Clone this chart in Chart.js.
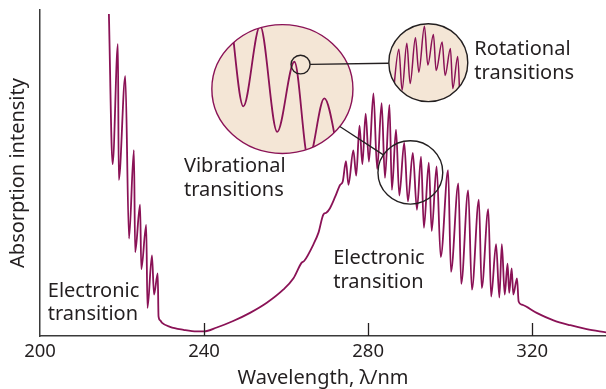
<!DOCTYPE html>
<html>
<head>
<meta charset="utf-8">
<script src="https://cdn.jsdelivr.net/npm/chart.js@4.4.1/dist/chart.umd.min.js"></script>
<style>
  html, body { margin: 0; padding: 0; background: #fff; }
  #wrap { width: 606px; height: 389px; }
</style>
</head>
<body>
<div id="wrap"><canvas id="spectrum"></canvas></div>
<script>
// spectrum: wavelength (nm) and relative absorption (0-100)
const leftBandNm  = [216.8, 217.7, 219.0, 219.2, 220.8, 221.7, 222.9, 223.2, 224.4, 224.7, 225.9, 226.2, 227.3, 227.8, 228.7, 228.9, 229.3];
const leftBandAbs = [98.8, 52.7, 89.5, 47.9, 79.7, 29.9, 57.0, 25.7, 40.3, 20.5, 34.1, 8.6, 24.7, 12.7, 19.2, 6.0, 4.8];

const valleyNm  = [229.7, 231.7, 235.0, 238.2, 240.0, 243.1, 247.1, 251.2, 255.3, 259.3, 261.8, 263.8, 264.4, 266.7, 267.9, 269.1, 269.8, 270.7, 272.0, 273.2, 273.8];
const valleyAbs = [4.1, 2.8, 1.9, 1.4, 1.4, 2.6, 4.6, 7.1, 10.2, 14.2, 17.7, 22.5, 23.0, 28.2, 31.7, 37.3, 37.8, 39.2, 42.8, 46.4, 47.3];

const mainBandNm  = [274.6, 275.2, 276.4, 277.1, 277.9, 278.6, 279.4, 280.2, 281.3, 282.2, 283.3, 284.1,
                     285.2, 285.8, 286.8, 287.6, 288.8, 289.7, 290.9, 291.9, 292.9, 293.6, 294.8, 295.5,
                     296.7, 297.7, 299.5, 300.2, 302.0, 302.7, 304.4, 305.3, 307.0, 307.7, 309.3, 310.0,
                     311.2, 312.0, 312.6, 313.3, 314.0, 314.4, 315.0, 315.4, 316.3, 316.7, 317.5];
const mainBandAbs = [53.6, 46.4, 56.9, 49.2, 64.5, 52.7, 68.2, 53.5, 74.4, 51.2, 71.4, 48.5,
                     70.9, 44.8, 63.3, 43.1, 59.3, 41.3, 56.2, 38.7, 55.0, 33.2, 53.2, 32.2,
                     52.0, 24.2, 50.9, 19.7, 46.8, 16.0, 44.7, 14.2, 41.8, 14.7, 38.9, 12.1,
                     28.2, 11.8, 28.2, 12.7, 22.2, 13.2, 20.7, 12.7, 17.7, 10.6, 9.6];

const tailNm  = [321.1, 325.2, 329.3, 333.3, 338.0];
const tailAbs = [7.1, 4.8, 3.3, 2.1, 1.1];

// magnified views, in units of 0-100 across each lens
const vibInsetX = [13, 22.3, 34.2, 46.3, 58.5, 68.5, 79.7, 91];
const vibInsetY = [110, 36.6, 99, 16.8, 71.2, -5, 42.7, -8];
const rotInsetX = [4.2, 12.7, 16.8, 22.8, 27.0, 33.7, 38.0, 45.1, 49.4, 56.5, 59.9, 67.5, 71.3, 78.0, 81.0, 87.3, 90.3];
const rotInsetY = [-6, 67.2, 14.6, 74.8, 23.1, 82.0, 37.8, 96.6, 47.0, 86.1, 39.8, 76.4, 33.5, 68.1, 16.8, 58.0, -6];

const tickValues = [200, 240, 280, 320];

const X_MIN = 200, X_MAX = 338, Y_MIN = 0, Y_MAX = 100;
const lineColor = '#8a1256';
const inkColor = '#231f20';
const axisColor = '#3a3a3a';
const beige = '#f4e6d6';
const font = 'Noto Sans';

// lens outlines given as boxes in data units
const lenses = {
  vib:  { xMin: 241.9, xMax: 276.3, yMin: 56.0, yMax: 95.5, fill: beige, stroke: lineColor },
  rot:  { xMin: 285.05, xMax: 304.3, yMin: 71.9, yMax: 95.8, fill: beige, stroke: inkColor },
  band: { xMin: 282.4, xMax: 298.2, yMin: 40.45, yMax: 59.9, fill: null, stroke: inkColor },
  spot: { xMin: 261.2, xMax: 265.85, yMin: 80.4, yMax: 86.1, fill: null, stroke: inkColor }
};
const links = [['spot', 'rot'], ['vib', 'band']];

const notes = [
  { lines: ['Rotational', 'transitions'], x: 305.9, y: 86.1 },
  { lines: ['Vibrational', 'transitions'], x: 235.1, y: 50.3 },
  { lines: ['Electronic', 'transition'], x: 201.9, y: 12.1 },
  { lines: ['Electronic', 'transition'], x: 271.5, y: 22.0 }
];

function toPoints(xs, ys) {
  return xs.map((x, i) => ({ x: x, y: ys[i] }));
}

function insetRange(lo, hi, axisMin, axisMax) {
  const k = 100 / (hi - lo);
  return { min: -(lo - axisMin) * k, max: 100 + (axisMax - hi) * k };
}

function ellipseOf(chart, box) {
  const xs = chart.scales.x, ys = chart.scales.y;
  const l = xs.getPixelForValue(box.xMin), r = xs.getPixelForValue(box.xMax);
  const t = ys.getPixelForValue(box.yMax), b = ys.getPixelForValue(box.yMin);
  return { cx: (l + r) / 2, cy: (t + b) / 2, rx: (r - l) / 2, ry: (b - t) / 2 };
}

function tracePath(ctx, e) {
  ctx.beginPath();
  ctx.ellipse(e.cx, e.cy, e.rx, e.ry, 0, 0, Math.PI * 2);
}

function edgePoint(e, ux, uy) {
  const t = 1 / Math.sqrt((ux / e.rx) ** 2 + (uy / e.ry) ** 2);
  return [e.cx + ux * t, e.cy + uy * t];
}

const lensPlugin = {
  id: 'lenses',
  beforeDatasetsDraw(chart) {
    const ctx = chart.ctx;
    Object.values(lenses).forEach(box => {
      if (!box.fill) return;
      ctx.save();
      tracePath(ctx, ellipseOf(chart, box));
      ctx.fillStyle = box.fill;
      ctx.fill();
      ctx.restore();
    });
  },
  beforeDatasetDraw(chart, args) {
    const lens = chart.data.datasets[args.index].lens;
    if (!lens) return;
    const ctx = chart.ctx;
    ctx.save();
    tracePath(ctx, ellipseOf(chart, lenses[lens]));
    ctx.clip();
  },
  afterDatasetDraw(chart, args) {
    if (chart.data.datasets[args.index].lens) chart.ctx.restore();
  },
  afterDatasetsDraw(chart) {
    const ctx = chart.ctx;
    ctx.save();
    Object.values(lenses).forEach(box => {
      tracePath(ctx, ellipseOf(chart, box));
      ctx.strokeStyle = box.stroke;
      ctx.lineWidth = 1.4;
      ctx.stroke();
    });
    links.forEach(([a, b]) => {
      const ea = ellipseOf(chart, lenses[a]), eb = ellipseOf(chart, lenses[b]);
      const dx = eb.cx - ea.cx, dy = eb.cy - ea.cy, d = Math.hypot(dx, dy);
      const p = edgePoint(ea, dx / d, dy / d), q = edgePoint(eb, -dx / d, -dy / d);
      ctx.beginPath();
      ctx.moveTo(p[0], p[1]);
      ctx.lineTo(q[0], q[1]);
      ctx.strokeStyle = inkColor;
      ctx.lineWidth = 1.3;
      ctx.stroke();
    });

    // tick marks point up into the plot
    const xs = chart.scales.x, y0 = chart.scales.y.getPixelForValue(Y_MIN);
    ctx.strokeStyle = inkColor;
    ctx.lineWidth = 1.3;
    xs.ticks.forEach(t => {
      if (t.value === X_MIN) return;
      const px = Math.round(xs.getPixelForValue(t.value)) + 0.5;
      ctx.beginPath();
      ctx.moveTo(px, y0);
      ctx.lineTo(px, y0 - 13);
      ctx.stroke();
    });

    ctx.fillStyle = inkColor;
    ctx.font = '20px "' + font + '"';
    ctx.textAlign = 'left';
    ctx.textBaseline = 'alphabetic';
    notes.forEach(n => {
      const px = xs.getPixelForValue(n.x), py = chart.scales.y.getPixelForValue(n.y);
      n.lines.forEach((s, i) => ctx.fillText(s, px, py + i * 23.5));
    });
    ctx.restore();
  }
};

const vibX = insetRange(lenses.vib.xMin, lenses.vib.xMax, X_MIN, X_MAX);
const vibY = insetRange(lenses.vib.yMin, lenses.vib.yMax, Y_MIN, Y_MAX);
const rotX = insetRange(lenses.rot.xMin, lenses.rot.xMax, X_MIN, X_MAX);
const rotY = insetRange(lenses.rot.yMin, lenses.rot.yMax, Y_MIN, Y_MAX);

const spectrumNm = [...leftBandNm, ...valleyNm, ...mainBandNm, ...tailNm];
const spectrumAbs = [...leftBandAbs, ...valleyAbs, ...mainBandAbs, ...tailAbs];

const lineStyle = {
  borderColor: lineColor,
  borderWidth: 1.8,
  pointRadius: 0,
  fill: false,
  cubicInterpolationMode: 'monotone'
};

new Chart(document.getElementById('spectrum'), {
  type: 'line',
  data: {
    datasets: [
      Object.assign({ data: toPoints(spectrumNm, spectrumAbs), xAxisID: 'x', yAxisID: 'y' }, lineStyle),
      Object.assign({ data: toPoints(vibInsetX, vibInsetY), xAxisID: 'xv', yAxisID: 'yv', lens: 'vib', clip: false }, lineStyle),
      Object.assign({ data: toPoints(rotInsetX, rotInsetY), xAxisID: 'xr', yAxisID: 'yr', lens: 'rot', clip: false }, lineStyle, { borderWidth: 1.5 })
    ]
  },
  options: {
    responsive: true,
    maintainAspectRatio: false,
    animation: false,
    events: [],
    layout: { padding: { top: 10, left: 0, right: 0, bottom: 0 } },
    plugins: { legend: { display: false }, tooltip: { enabled: false } },
    scales: {
      x: {
        type: 'linear',
        min: X_MIN,
        max: X_MAX,
        afterBuildTicks: s => { s.ticks = tickValues.map(v => ({ value: v })); },
        grid: { display: false, drawTicks: false },
        border: { display: true, color: axisColor, width: 1.5 },
        ticks: { color: inkColor, font: { family: font, size: 18.5, lineHeight: 1 }, padding: 6, maxRotation: 0, autoSkip: false },
        title: { display: true, text: 'Wavelength, λ/nm', color: inkColor, font: { family: font, size: 20, lineHeight: 1 }, padding: { top: 2, bottom: 0.5 } }
      },
      y: {
        type: 'linear',
        min: Y_MIN,
        max: Y_MAX,
        ticks: { display: false },
        grid: { display: false, drawTicks: false },
        border: { display: true, color: axisColor, width: 1.5 },
        title: { display: true, text: 'Absorption intensity', color: inkColor, font: { family: font, size: 20, lineHeight: 1 }, padding: { top: 8, bottom: 12 } }
      },
      xv: { type: 'linear', display: false, min: vibX.min, max: vibX.max },
      yv: { type: 'linear', display: false, min: vibY.min, max: vibY.max },
      xr: { type: 'linear', display: false, min: rotX.min, max: rotX.max },
      yr: { type: 'linear', display: false, min: rotY.min, max: rotY.max }
    }
  },
  plugins: [lensPlugin]
});
</script>
</body>
</html>
